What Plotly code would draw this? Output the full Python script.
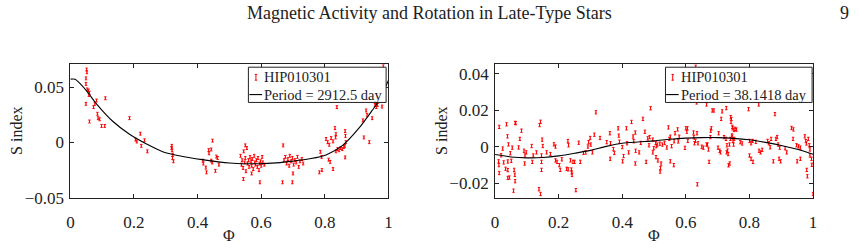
import plotly.graph_objects as go

# ---------------- data: left panel (Period = 2912.5 day) ----------------
phase_a = [0.051, 0.052, 0.049, 0.049, 0.053, 0.057, 0.060, 0.058, 0.049, 0.060,
           0.082, 0.077, 0.073, 0.085, 0.087, 0.092, 0.098, 0.108, 0.110, 0.186,
           0.205, 0.209, 0.220, 0.223, 0.233, 0.242, 0.319, 0.320, 0.322, 0.324,
           0.321, 0.318, 0.417, 0.418, 0.426, 0.428, 0.435, 0.436, 0.443, 0.447,
           0.443, 0.446, 0.459, 0.463, 0.456, 0.467,
           0.535, 0.538, 0.540, 0.543, 0.545, 0.548, 0.550, 0.552, 0.555, 0.557,
           0.560, 0.562, 0.565, 0.568, 0.570, 0.572, 0.575, 0.578, 0.580, 0.582,
           0.585, 0.588, 0.590, 0.593, 0.595, 0.598, 0.600, 0.603, 0.605, 0.610,
           0.544, 0.570, 0.596, 0.550,
           0.672, 0.676, 0.680, 0.684, 0.688, 0.690, 0.694, 0.698, 0.702, 0.706,
           0.710, 0.714, 0.718, 0.722, 0.728, 0.732,
           0.667, 0.698, 0.669, 0.700, 0.783, 0.791, 0.786, 0.790, 0.812, 0.817,
           0.826, 0.804, 0.809, 0.814, 0.820, 0.826, 0.832, 0.835, 0.834, 0.835,
           0.840, 0.845, 0.850, 0.855, 0.860, 0.863, 0.864, 0.865, 0.866, 0.864,
           0.838, 0.923, 0.940, 0.920, 0.933, 0.949, 0.930, 0.955, 0.958, 0.960,
           0.962, 0.965, 0.966, 0.968, 0.980, 0.984]
sindex_a = [0.066, 0.0635, 0.058, 0.053, 0.048, 0.047, 0.045, 0.043, 0.035, 0.019,
            0.038, 0.035, 0.032, 0.026, 0.022, 0.021, 0.015, 0.015, 0.040, 0.022,
            0.0026, 0.0009, 0.008, -0.003, 0.002, -0.008, -0.003, -0.007, -0.011, -0.017,
            -0.014, -0.005, -0.0164, -0.019, -0.0227, -0.027, -0.0069, -0.0098, -0.0063, 0.0017,
            -0.0164, -0.018, -0.0127, -0.014, -0.0256, -0.020,
            -0.012, -0.020, -0.016, -0.023, -0.008, -0.018, -0.014, -0.026, -0.005, -0.019,
            -0.016, -0.022, -0.013, -0.017, -0.021, -0.015, -0.024, -0.012, -0.018, -0.020,
            -0.016, -0.022, -0.014, -0.025, -0.019, -0.017, -0.021, -0.013, -0.018, -0.020,
            -0.033, -0.028, -0.036, -0.0026,
            -0.016, -0.013, -0.019, -0.015, -0.021, -0.012, -0.017, -0.014, -0.020, -0.016,
            -0.018, -0.013, -0.022, -0.017, -0.015, -0.019,
            -0.036, -0.036, -0.0026, -0.028, -0.027, -0.025, -0.0084, -0.013, -0.0155, -0.0175,
            -0.024, 0.0032, 0.0003, -0.002, 0.004, 0.001, 0.013, 0.0075, 0.0046, -0.008,
            -0.006, -0.007, -0.005, -0.006, -0.004, -0.003, 0.0103, 0.006, 0.0003, -0.0135,
            0.032, 0.0046, 0.0003, 0.020, 0.025, 0.022, 0.029, 0.038, 0.034, 0.036,
            0.032, 0.037, 0.034, 0.039, 0.0325, 0.069]
err_a = 0.0013

fit_phase_a = [0.0, 0.015, 0.03, 0.056, 0.082, 0.134, 0.186, 0.238, 0.29, 0.35, 0.414,
               0.5, 0.6, 0.648, 0.7, 0.752, 0.804, 0.856, 0.908, 0.949, 0.97, 1.0]
fit_sindex_a = [0.0573, 0.0572, 0.0534, 0.0448, 0.035, 0.019, 0.0075, -0.0011, -0.0083,
                -0.0125, -0.0155, -0.0185, -0.0192, -0.0184, -0.0168, -0.0147, -0.0112,
                -0.0026, 0.0132, 0.029, 0.0377, 0.056]

# ---------------- data: right panel (Period = 38.1418 day) ----------------
phase_b = [0.013, 0.011, 0.012, 0.013, 0.024, 0.036, 0.039, 0.042, 0.040, 0.040,
           0.040, 0.048, 0.051, 0.054, 0.060, 0.062, 0.063, 0.058, 0.063, 0.074,
           0.078, 0.083, 0.091, 0.094, 0.093, 0.098, 0.115, 0.120, 0.117, 0.130,
           0.140, 0.138, 0.143, 0.148, 0.150, 0.146, 0.146, 0.146, 0.162, 0.174,
           0.185, 0.190, 0.190, 0.195, 0.202, 0.205, 0.210, 0.229, 0.231, 0.225,
           0.230, 0.240, 0.241, 0.245, 0.237, 0.242, 0.250, 0.254, 0.263, 0.268,
           0.278, 0.285, 0.292, 0.294, 0.299, 0.301, 0.306, 0.312, 0.317, 0.330,
           0.351, 0.361, 0.363, 0.362, 0.372, 0.375, 0.387, 0.389, 0.391, 0.400,
           0.404, 0.401, 0.413, 0.415, 0.420, 0.429, 0.434, 0.436, 0.441, 0.442,
           0.441, 0.453, 0.458, 0.465, 0.471, 0.475, 0.480, 0.489, 0.484, 0.496,
           0.486, 0.496, 0.499, 0.505, 0.507, 0.506, 0.512, 0.520, 0.522, 0.519,
           0.510, 0.518, 0.526, 0.533, 0.540, 0.545, 0.548, 0.551, 0.551, 0.555,
           0.562, 0.566, 0.563, 0.574, 0.576, 0.579, 0.600, 0.603, 0.605, 0.606,
           0.597, 0.624, 0.625, 0.630, 0.635, 0.627, 0.638, 0.650, 0.655, 0.636,
           0.665, 0.665, 0.668, 0.671, 0.673, 0.678, 0.680, 0.677, 0.683, 0.688,
           0.701, 0.703, 0.706, 0.709, 0.711, 0.714, 0.720, 0.726, 0.727, 0.729,
           0.731, 0.734, 0.740, 0.745, 0.746, 0.743, 0.750, 0.634, 0.631, 0.797,
           0.829, 0.880, 0.741, 0.742, 0.747, 0.751, 0.755, 0.759, 0.745, 0.748,
           0.752, 0.737, 0.728, 0.733, 0.738, 0.771, 0.777, 0.800, 0.805, 0.810,
           0.800, 0.805, 0.820, 0.811, 0.830, 0.835, 0.840, 0.857, 0.861, 0.865,
           0.868, 0.875, 0.883, 0.887, 0.890, 0.895, 0.893, 0.898, 0.912, 0.917,
           0.932, 0.938, 0.937, 0.948, 0.954, 0.960, 0.950, 0.960, 0.974, 0.977,
           0.979, 0.985, 0.988, 0.990, 0.990, 0.995, 0.980, 0.982, 0.996, 1.000,
           0.019, 0.027, 0.033, 0.045, 0.065, 0.143]
sindex_b = [0.011, -0.0079, -0.0100, -0.0143, -0.0009, 0.0124, 0.0058, 0.0014, -0.008, -0.0127,
            -0.017, -0.0035, -0.0076, -0.0004, -0.0126, -0.0153, -0.0188, -0.024, 0.0132, -0.0003,
            0.0044, 0.0089, -0.0021, -0.0047, -0.0091, -0.003, 0.0005, -0.0047, -0.0082, -0.003,
            0.012, -0.0232, -0.0258, 0.004, 0.0005, -0.0047, -0.0082, -0.0126, -0.003, -0.0039,
            0.0014, 0.0002, -0.0074, -0.0082, -0.010, -0.0126, -0.0068, 0.0032, 0.0009, -0.012,
            -0.0123, -0.0124, -0.014, -0.0082, -0.0074, -0.0153, -0.0082, -0.0237, 0.0023, -0.0082,
            -0.0033, -0.003, 0.0002, 0.0026, 0.0049, 0.0013, -0.003, 0.0067, 0.019, 0.0049,
            0.0026, 0.0075, 0.002, -0.0065, -0.0012, -0.0033, 0.0102, 0.0062, 0.0029, -0.0001,
            -0.005, -0.0079, 0.0102, 0.002, -0.003, 0.0137, 0.0057, 0.0031, 0.0079, -0.0021,
            -0.0091, -0.003, 0.0022, 0.0154, 0.0083, -0.0082, 0.0047, 0.0212, 0.0009, -0.003,
            0.0054, 0.004, -0.0007, 0.0021, 0.0004, -0.0056, -0.0074, -0.0117, -0.0091, -0.0135,
            0.0013, 0.0018, 0.0013, 0.0022, -0.0003, 0.0107, 0.0044, 0.0056, -0.0079, 0.0004,
            -0.010, 0.0075, 0.0031, 0.0096, 0.003, 0.0056, 0.0102, 0.0084, 0.0102, 0.0033,
            -0.0005, 0.0079, 0.0053, 0.0033, 0.0075, 0.002, 0.002, 0.0001, -0.0004, -0.0205,
            0.0013, 0.0233, 0.0013, -0.0014, -0.0082, 0.0089, 0.0102, 0.0054, 0.020, 0.020,
            -0.0004, 0.0075, -0.0021, -0.003, 0.0154, 0.0195, 0.0054, 0.0044, 0.0213, 0.0009,
            -0.002, -0.0101, 0.0044, 0.0063, 0.011, 0.0153, 0.0013, 0.0244, 0.044, 0.0207,
            0.0233, 0.018, 0.0163, 0.0137, 0.0102, 0.0093, 0.0099, 0.0095, 0.0056, 0.0033,
            0.0044, 0.0013, -0.003, -0.0039, -0.0091, 0.0026, 0.0019, 0.0033, 0.002, 0.0033,
            -0.0047, -0.0065, 0.0028, -0.0082, -0.0021, -0.003, -0.0016, 0.0033, 0.002, -0.0002,
            0.0044, -0.0079, 0.0044, 0.0054, 0.0013, -0.0004, -0.0065, -0.0079, -0.0007, -0.003,
            0.0104, 0.0096, 0.0044, 0.0009, 0.0003, -0.0004, -0.0079, -0.0065, 0.0058, 0.0032,
            0.0019, 0.0044, 0.0009, -0.0014, -0.0047, -0.0065, -0.0126, -0.0161, -0.0098, -0.0258,
            -0.0046, -0.0085, -0.0120, -0.0168, 0.0130, 0.0138]
err_b = 0.0009

fit_phase_b = [0.0, 0.05, 0.1, 0.15, 0.2, 0.25, 0.3, 0.35, 0.4, 0.45, 0.5,
               0.55, 0.6, 0.65, 0.7, 0.75, 0.8, 0.85, 0.9, 0.95, 1.0]
fit_sindex_b = [-0.0042, -0.0055, -0.006, -0.0058, -0.0049, -0.0035, -0.0019, 0.0003, 0.002,
                0.0027, 0.0033, 0.0042, 0.0048, 0.0051, 0.0051, 0.0047, 0.0039, 0.0025,
                0.0008, -0.0013, -0.004]

x_ticks = [0, 0.2, 0.4, 0.6, 0.8, 1]
x_tick_text = ["0", "0.2", "0.4", "0.6", "0.8", "1"]
y_ticks_a = [-0.05, 0, 0.05]
y_tick_text_a = ["\u22120.05", "0", "0.05"]
y_ticks_b = [-0.02, 0, 0.02, 0.04]
y_tick_text_b = ["\u22120.02", "0", "0.02", "0.04"]

star_name = "HIP010301"
period_a = "Period = 2912.5 day"
period_b = "Period = 38.1418 day"

# ---------------- figure ----------------
W, H = 859, 251
SERIF = "Liberation Serif"
RED = "#ff0000"

fig = go.Figure()

def add_panel(xa, ya, ph, s, err, fph, fs):
    fig.add_trace(go.Scatter(
        x=ph, y=s, mode="markers", xaxis=xa, yaxis=ya,
        marker=dict(size=1, color=RED),
        error_y=dict(type="constant", value=err, color=RED, thickness=1, width=1.2),
        showlegend=False, hoverinfo="skip"))
    fig.add_trace(go.Scatter(
        x=fph, y=fs, mode="lines", xaxis=xa, yaxis=ya,
        line=dict(color="black", width=1.1, shape="spline", smoothing=0.8),
        showlegend=False, hoverinfo="skip"))

add_panel("x", "y", phase_a, sindex_a, err_a, fit_phase_a, fit_sindex_a)
add_panel("x2", "y2", phase_b, sindex_b, err_b, fit_phase_b, fit_sindex_b)

def px(v):
    return v / W

def py(v):
    return 1 - v / H

ydom = [py(206), py(67)]
axis_common = dict(showgrid=False, zeroline=False, showline=True, linecolor="#222",
                   linewidth=1, mirror="ticks", ticks="inside", ticklen=4,
                   tickcolor="#222", tickfont=dict(family=SERIF, size=17, color="#222"))

fig.update_layout(
    width=W, height=H, margin=dict(l=0, r=0, t=0, b=0),
    paper_bgcolor="white", plot_bgcolor="white", showlegend=False,
    font=dict(family=SERIF),
    xaxis=dict(domain=[px(67), px(388)], range=[0, 1], tickvals=x_ticks,
               ticktext=x_tick_text, anchor="y", ticklabelstandoff=9, **axis_common),
    yaxis=dict(domain=ydom, range=[-0.05, 0.0707], tickvals=y_ticks_a,
               ticktext=y_tick_text_a, anchor="x", ticklabelstandoff=2, **axis_common),
    xaxis2=dict(domain=[px(495.7), px(816.7)], range=[0, 1], tickvals=x_ticks,
                ticktext=x_tick_text, anchor="y2", ticklabelstandoff=9, **axis_common),
    yaxis2=dict(domain=ydom, range=[-0.0279, 0.0453], tickvals=y_ticks_b,
                ticktext=y_tick_text_b, anchor="x2", ticklabelstandoff=2, **axis_common),
)

ann = []
def text(x, y, s, size=15, anchor="center", angle=0):
    ann.append(dict(x=px(x), y=py(y), xref="paper", yref="paper", text=s,
                    showarrow=False, xanchor=anchor, yanchor="middle", textangle=angle,
                    font=dict(family=SERIF, size=size, color="#222")))

# page header
text(429, 14, "Magnetic Activity and Rotation in Late-Type Stars", size=18)
text(848, 14, "9", size=18)
# axis titles
text(12, 136.5, "S index", size=16, angle=-90)
text(441, 136.5, "S index", size=16, angle=-90)
text(227, 245, "\u03a6", size=16)
text(656, 245, "\u03a6", size=16)

shapes = []
def legend(x0, x1, y0, y1, glyph_x, text_x, line_x0, line_x1, label2):
    shapes.append(dict(type="rect", xref="paper", yref="paper",
                       x0=px(x0), x1=px(x1), y0=py(y1), y1=py(y0),
                       line=dict(color="#222", width=1), fillcolor="white", layer="above"))
    yc1, yc2 = 80.5, 98.5
    # error-bar glyph
    shapes.append(dict(type="line", xref="paper", yref="paper", x0=px(glyph_x), x1=px(glyph_x),
                       y0=py(yc1 - 3), y1=py(yc1 + 3), line=dict(color=RED, width=1), layer="above"))
    for dy in (-3, 3):
        shapes.append(dict(type="line", xref="paper", yref="paper", x0=px(glyph_x - 1.2),
                           x1=px(glyph_x + 1.2), y0=py(yc1 + dy), y1=py(yc1 + dy),
                           line=dict(color=RED, width=1), layer="above"))
    shapes.append(dict(type="line", xref="paper", yref="paper", x0=px(line_x0), x1=px(line_x1),
                       y0=py(yc2), y1=py(yc2), line=dict(color="black", width=1.1), layer="above"))
    text(text_x, yc1, star_name, size=14.5, anchor="left")
    text(text_x, yc2, label2, size=14.5, anchor="left")

legend(246.7, 385.7, 70, 106.7, 254.3, 260.5, 247.7, 260.5, period_a)
legend(667.7, 815.7, 70, 106.7, 675, 681.0, 668.3, 681.0, period_b)

fig.update_layout(annotations=ann, shapes=shapes)
fig.write_html("out.html")
